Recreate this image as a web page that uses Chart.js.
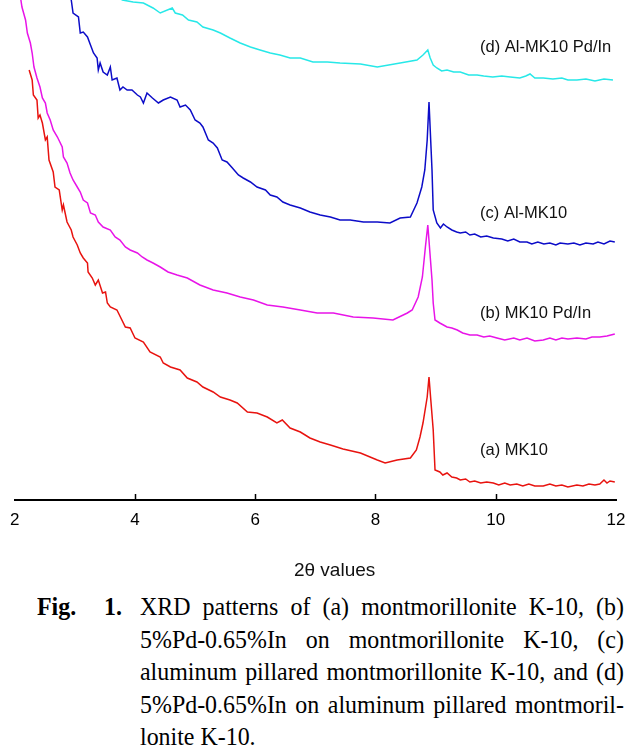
<!DOCTYPE html>
<html>
<head>
<meta charset="utf-8">
<script src="https://cdn.jsdelivr.net/npm/chart.js@4/dist/chart.umd.min.js"></script>
<style>
  html, body { margin: 0; padding: 0; background: #fff; }
  #wrap { position: relative; width: 644px; height: 753px; overflow: hidden; }
  #c { position: absolute; left: 0; top: 0; }
  #cap { position: absolute; left: 0; top: 590px; width: 644px;
         font-family: "Liberation Serif", "Times New Roman", serif; font-size: 26px; color: #000; }
  .ln { position: absolute; left: 140px; width: 526px; height: 33px; line-height: 33px;
        text-align: justify; text-align-last: justify; white-space: nowrap;
        transform: scaleX(0.92); transform-origin: 0 0; }
  .last { text-align-last: left; }
  .fig { position: absolute; font-weight: bold; line-height: 33px; white-space: pre;
         transform: scaleX(0.92); transform-origin: 0 0; }
</style>
</head>
<body>
<div id="wrap">
  <canvas id="c" width="644" height="590"></canvas>
  <div id="cap"></div>
</div>
<script>
// ---- Data (2θ in degrees, relative intensity, arbitrary units) ----
const xA = [2.24,2.29,2.31,2.37,2.39,2.42,2.46,2.51,2.54,2.57,2.64,2.67,2.74,2.79,2.81,2.87,2.94,2.97,3.04,3.09,3.14,3.21,3.22,3.29,3.34,3.39,3.46,3.51,3.54,3.59,3.70,3.84,3.92,4.00,4.14,4.25,4.42,4.47,4.59,4.75,4.87,5.03,5.13,5.30,5.42,5.58,5.70,5.87,6.03,6.20,6.36,6.45,6.58,6.75,6.91,7.08,7.25,7.46,7.75,8.03,8.16,8.36,8.58,8.68,8.74,8.79,8.86,8.89,8.92,8.96,8.99,9.07,9.12,9.19,9.27,9.35,9.41,9.50,9.57,9.65,9.75,9.85,9.96,10.05,10.15,10.24,10.35,10.45,10.55,10.65,10.79,10.90,11.00,11.10,11.20,11.35,11.45,11.55,11.65,11.73,11.80,11.85,11.90,11.98];
const yA = [430,420,405,400,382,385,377,360,363,340,328,313,310,290,295,278,270,263,255,247,242,237,228,222,215,220,207,208,197,193,190,173,172,162,158,148,143,137,133,130,122,118,113,108,103,100,97,88,87,83,77,80,72,68,62,58,55,51,47,40,37,40,42,50,63,77,103,123,100,70,30,28,25,27,23,22,20,21,18,19,17,18,17,15,17,15,16,14,16,14,14,16,14,15,13,15,14,16,15,16,20,17,19,18];

const xB = [2.09,2.12,2.18,2.21,2.26,2.29,2.32,2.37,2.42,2.46,2.51,2.54,2.59,2.64,2.71,2.79,2.81,2.87,2.92,2.97,3.04,3.09,3.14,3.21,3.26,3.34,3.39,3.47,3.59,3.67,3.75,3.84,3.92,4.04,4.12,4.20,4.30,4.42,4.55,4.70,4.87,5.08,5.30,5.53,5.75,5.97,6.20,6.46,6.75,7.03,7.30,7.63,7.96,8.29,8.53,8.61,8.71,8.78,8.83,8.87,8.94,8.96,8.99,9.07,9.13,9.19,9.27,9.36,9.45,9.57,9.69,9.80,9.90,10.02,10.15,10.30,10.40,10.52,10.65,10.79,10.90,11.00,11.10,11.20,11.35,11.50,11.60,11.73,11.85,11.98];
const yB = [505,493,480,467,457,447,433,422,413,402,397,387,380,370,363,353,343,337,327,320,313,308,300,297,287,285,278,273,270,263,260,253,250,247,243,240,237,233,228,225,222,215,210,207,203,200,195,193,190,187,187,183,182,180,187,190,203,223,253,275,220,197,180,177,175,173,172,170,167,165,165,163,164,162,160,162,160,162,159,160,162,160,162,161,162,161,163,163,164,166];

const xC = [2.92,2.94,2.97,3.06,3.09,3.14,3.21,3.26,3.31,3.37,3.39,3.42,3.47,3.54,3.59,3.62,3.70,3.75,3.80,3.87,3.95,4.04,4.09,4.14,4.20,4.29,4.39,4.47,4.59,4.70,4.75,4.84,4.92,5.00,5.08,5.13,5.22,5.30,5.37,5.45,5.53,5.62,5.72,5.80,5.92,6.03,6.17,6.25,6.36,6.46,6.58,6.75,6.91,7.08,7.25,7.41,7.58,7.80,8.03,8.24,8.41,8.58,8.69,8.77,8.82,8.86,8.89,8.94,8.96,9.02,9.08,9.13,9.19,9.27,9.35,9.41,9.50,9.57,9.65,9.75,9.85,9.96,10.10,10.20,10.30,10.40,10.52,10.60,10.70,10.80,10.90,11.00,11.07,11.20,11.30,11.40,11.50,11.62,11.70,11.80,11.90,11.98];
const yC = [505,500,487,483,467,468,463,455,447,442,430,437,428,425,433,420,422,410,413,410,410,405,403,397,407,402,397,400,403,400,393,395,390,380,377,373,360,357,352,340,338,332,325,322,318,313,310,305,303,298,295,292,288,285,283,280,280,278,278,277,282,283,297,313,330,360,398,330,290,277,272,276,273,270,268,267,268,265,266,263,264,262,261,259,261,258,258,256,258,256,257,255,257,256,257,255,257,256,258,256,259,258];

const xD = [3.67,3.79,3.97,4.14,4.30,4.42,4.62,4.67,4.79,4.89,5.03,5.13,5.30,5.42,5.58,5.75,5.92,6.08,6.25,6.41,6.58,6.75,6.96,7.20,7.41,7.75,8.03,8.41,8.69,8.79,8.87,8.91,8.96,9.02,9.10,9.19,9.30,9.41,9.55,9.69,9.80,9.95,10.10,10.24,10.40,10.50,10.57,10.65,10.79,10.95,11.10,11.20,11.35,11.50,11.65,11.80,11.95];
const yD = [505,500,498,497,492,487,492,487,485,480,478,473,470,467,462,457,453,450,447,445,442,442,438,438,437,436,433,437,440,445,450,442,435,432,429,430,428,428,425,425,424,423,424,423,422,424,426,422,422,421,422,420,420,421,419,421,420];

const seriesNames = ["(a) MK10", "(b) MK10 Pd/In", "(c) Al-MK10", "(d) Al-MK10 Pd/In"];
const xTicks = [2, 4, 6, 8, 10, 12];
const xTitle = "2θ values";
const captionLines = [
  "XRD patterns of (a) montmorillonite K-10, (b)",
  "5%Pd-0.65%In on montmorillonite K-10, (c)",
  "aluminum pillared montmorillonite K-10, and (d)",
  "5%Pd-0.65%In on aluminum pillared montmoril-",
  "lonite K-10."
];

// ---- build ----
const pts = (xs, ys) => xs.map((x, i) => ({ x: x, y: ys[i] }));
const colors = ["#e8130f", "#e814e8", "#0c0cc8", "#27e8e8"];
const all = [pts(xA, yA), pts(xB, yB), pts(xC, yC), pts(xD, yD)];

// label anchor positions (data space) for the curve names
const labelPos = [[9.74, 50], [9.74, 187], [9.74, 287], [9.74, 453]];

const deco = {
  id: 'deco',
  afterDraw(chart) {
    const ctx = chart.ctx, xs = chart.scales.x, ys = chart.scales.y;
    const bottom = chart.chartArea.bottom;
    ctx.save();
    ctx.strokeStyle = '#000'; ctx.lineWidth = 1.5;
    xTicks.forEach(v => {
      if (v === 2 || v === 12) return;
      const px = Math.round(xs.getPixelForValue(v)) + 0.5;
      ctx.beginPath(); ctx.moveTo(px, bottom); ctx.lineTo(px, bottom - 6); ctx.stroke();
    });
    ctx.fillStyle = '#111';
    ctx.font = '16.5px "Liberation Sans", Arial, sans-serif';
    ctx.textAlign = 'left'; ctx.textBaseline = 'middle';
    seriesNames.forEach((n, i) => {
      ctx.fillText(n, xs.getPixelForValue(labelPos[i][0]), ys.getPixelForValue(labelPos[i][1]));
    });
    ctx.textAlign = 'center';
    ctx.font = '19px "Liberation Sans", Arial, sans-serif';
    ctx.fillText(xTitle, xs.getPixelForValue(7.32), bottom + 71);
    ctx.restore();
  }
};

new Chart(document.getElementById('c'), {
  type: 'line',
  data: {
    datasets: all.map((d, i) => ({
      label: seriesNames[i], data: d, borderColor: colors[i], borderWidth: 1.5,
      pointRadius: 0, tension: 0, fill: false
    }))
  },
  options: {
    responsive: false, animation: false, devicePixelRatio: 1,
    layout: { padding: { left: 14.5, right: 28, top: 0, bottom: 0 } },
    plugins: { legend: { display: false }, tooltip: { enabled: false } },
    scales: {
      x: {
        type: 'linear', min: 2, max: 12,
        afterBuildTicks: (s) => { s.ticks = xTicks.map(v => ({ value: v })); },
        afterFit: (s) => { s.height = 90; },
        ticks: { color: '#000', padding: 10, maxRotation: 0,
                 font: { family: '"Liberation Sans", Arial, sans-serif', size: 17 } },
        grid: { display: false, drawTicks: false },
        border: { display: true, color: '#000', width: 2 }
      },
      y: { display: false, min: 0, max: 500 }
    }
  },
  plugins: [deco]
});

// caption
const cap = document.getElementById('cap');
const f1 = document.createElement('div');
f1.className = 'fig'; f1.style.top = '0px'; f1.style.left = '37px'; f1.textContent = 'Fig.';
cap.appendChild(f1);
const f2 = document.createElement('div');
f2.className = 'fig'; f2.style.top = '0px'; f2.style.left = '104px'; f2.textContent = '1.';
cap.appendChild(f2);
captionLines.forEach((t, i) => {
  const d = document.createElement('div');
  d.className = 'ln' + (i === captionLines.length - 1 ? ' last' : '');
  d.style.top = (i * 32.6) + 'px';
  d.textContent = t;
  cap.appendChild(d);
});
</script>
</body>
</html>
